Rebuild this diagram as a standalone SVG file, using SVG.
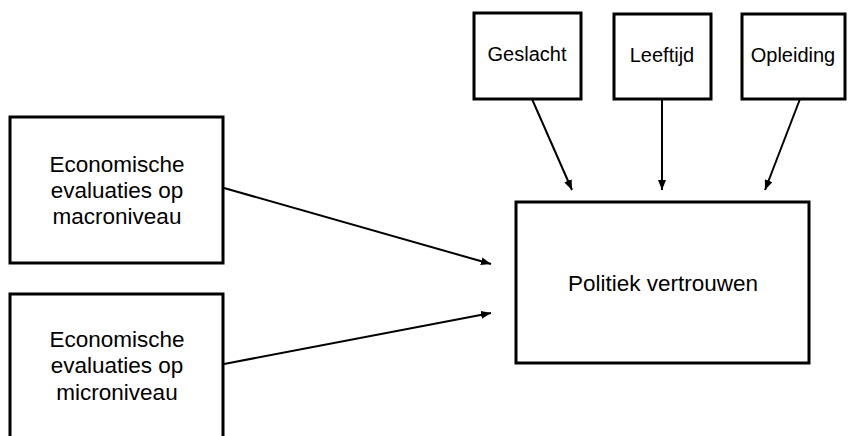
<svg xmlns="http://www.w3.org/2000/svg" width="848" height="436" viewBox="0 0 848 436">
<defs>
<style>
.box{fill:#fff;stroke:#000;stroke-width:3}
.lbl{font-family:"Liberation Sans",Arial,sans-serif;fill:#000;text-anchor:middle}
.big{font-size:22.5px}
.small{font-size:20px}
.conn{stroke:#000;stroke-width:2;fill:none;marker-end:url(#ah)}
</style>
<marker id="ah" viewBox="0 0 10 8" refX="10" refY="4" markerWidth="10" markerHeight="8" markerUnits="userSpaceOnUse" orient="auto">
<path d="M0,0 L10,4 L0,8 Z" fill="#000"/>
</marker>
</defs>
<rect width="848" height="436" fill="#fff"/>
<g id="macro">
<rect class="box" x="10" y="117" width="213" height="146"/>
<text class="lbl big" x="117" y="172">Economische</text>
<text class="lbl big" x="117" y="198">evaluaties op</text>
<text class="lbl big" x="117" y="224">macroniveau</text>
</g>
<g id="micro">
<rect class="box" x="10" y="294" width="213" height="160"/>
<text class="lbl big" x="117" y="347">Economische</text>
<text class="lbl big" x="117" y="373">evaluaties op</text>
<text class="lbl big" x="117" y="400">microniveau</text>
</g>
<g id="politiek">
<rect class="box" x="516" y="202" width="293" height="161"/>
<text class="lbl big" x="663" y="291">Politiek vertrouwen</text>
</g>
<g id="geslacht">
<rect class="box" x="474" y="13" width="107" height="86"/>
<text class="lbl small" x="527" y="61">Geslacht</text>
</g>
<g id="leeftijd">
<rect class="box" x="614" y="14" width="97" height="85"/>
<text class="lbl small" x="662" y="62">Leeftijd</text>
</g>
<g id="opleiding">
<rect class="box" x="742" y="14" width="103" height="85"/>
<text class="lbl small" x="793" y="62">Opleiding</text>
</g>
<g id="connectors">
<line class="conn" x1="224" y1="188" x2="491" y2="264"/>
<line class="conn" x1="224" y1="364" x2="491" y2="313"/>
<line class="conn" x1="532" y1="99" x2="572" y2="190"/>
<line class="conn" x1="662" y1="99" x2="662" y2="190"/>
<line class="conn" x1="800" y1="99" x2="765" y2="190"/>
</g>
</svg>
